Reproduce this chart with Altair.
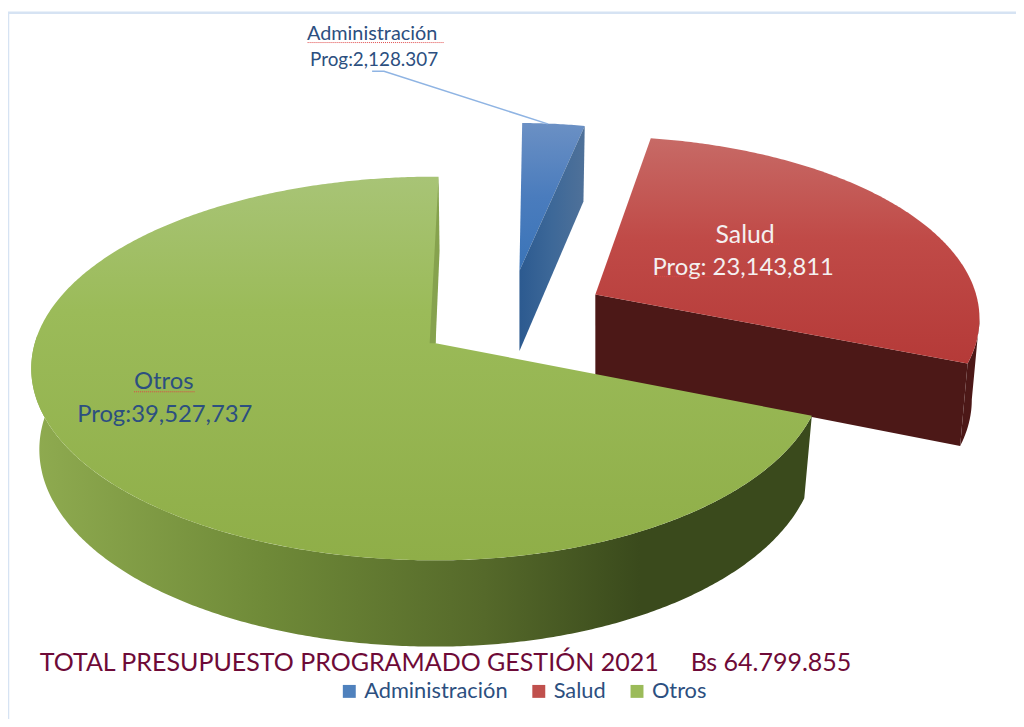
import numpy as np
import pandas as pd
import altair as alt

# ---- data ----
categories = ["Administración", "Salud", "Otros"]
programado = [2128307, 23143811, 39527737]
legend_colors = ["#4f81bd", "#c0504d", "#9bbb59"]
NB = "\u00a0"
title_text = "TOTAL PRESUPUESTO PROGRAMADO GESTIÓN 2021" + NB * 5 + "Bs 64.799.855"
FONT = "Lato"

# ---- canvas (scales are expressed in page pixels) ----
W, H = 1016, 711
X_SCALE = alt.Scale(domain=[8, 8 + W], range=[0, W], nice=False, zero=False)
Y_SCALE = alt.Scale(domain=[8, 8 + H], range=[0, H], nice=False, zero=False)
X = alt.X("x:Q", scale=X_SCALE, axis=None)
Y = alt.Y("y:Q", scale=Y_SCALE, axis=None)

# ---- 3-D projection of the exploded pie ----
K, RX, RY, DEPTH, SHRINK = 0.132, 404.0, 190.0, 81.0, 0.98
APEX = {"Administración": (523.5, 270.0, 0.887),
        "Salud": (600.0, 294.0, 0.95),
        "Otros": (439.0, 343.0, 1.0)}
RIGHT_SQUEEZE = {"Administración": 1.0, "Salud": 1.0, "Otros": 0.96}
START_TRIM = {"Administración": 0.0, "Salud": -2.5, "Otros": 0.0}


def warp(a):
    # the drawing compresses the right-hand side of the pie
    return a - 16.6 * (1 - np.cos(np.radians(a)))


def rim(name, a_deg, bottom=False):
    cx, cy, s = APEX[name]
    t = np.radians(a_deg + 0.5)
    xx, yy = np.sin(t), np.cos(t)
    w = 1 + K * yy
    squeeze = np.where(xx > 0, RIGHT_SQUEEZE[name], 1.0)
    px = cx + s * RX * squeeze * xx / w
    py = cy - s * RY * yy / w
    if bottom:
        px = cx + (px - cx) * SHRINK
        py = py + DEPTH / np.sqrt(w)
    return np.column_stack([np.atleast_1d(px), np.atleast_1d(py)])


def apex(name, bottom=False):
    cx, cy, _ = APEX[name]
    return np.array([[cx, cy + (DEPTH if bottom else 0)]])


def poly(points, fill):
    pts = np.vstack(points)
    df = pd.DataFrame({"x": pts[:, 0], "y": pts[:, 1], "i": np.arange(len(pts))})
    return alt.Chart(df).mark_line(fill=fill, stroke="transparent", strokeWidth=0, clip=False).encode(
        x=X, y=Y, order=alt.Order("i:Q"))


def grad(stops, horizontal=False):
    return {"gradient": "linear", "x1": 0, "y1": 0,
            "x2": 1 if horizontal else 0, "y2": 0 if horizontal else 1,
            "stops": [{"offset": o, "color": c} for o, c in stops]}


edges = np.cumsum([0] + programado) / sum(programado) * 360.0
bounds = {n: (warp(edges[i]) + START_TRIM[n], warp(edges[i + 1])) for i, n in enumerate(categories)}


def arc(name, a0, a1, bottom=False):
    return rim(name, np.linspace(a0, a1, int(abs(a1 - a0)) * 2 + 2), bottom)


layers = []

# Administración
a0, a1 = bounds["Administración"]
layers.append(poly([apex("Administración"), arc("Administración", a0, a1)],
                   grad([(0, "#6b90c4"), (0.5, "#4a7cbd"), (1, "#3a74b8")])))
layers.append(poly([apex("Administración"), rim("Administración", a1),
                    rim("Administración", a1, True), apex("Administración", True)],
                   grad([(0, "#2c5a90"), (0.5, "#3d6898"), (1, "#4f7199")], True)))

# Salud
a0, a1 = bounds["Salud"]
layers.append(poly([arc("Salud", a1 - 14, a1), arc("Salud", a1, a1 - 14, True)], "#4c1817"))
layers.append(poly([apex("Salud"), rim("Salud", a1), rim("Salud", a1, True), apex("Salud", True)], "#4c1817"))
layers.append(poly([apex("Salud"), arc("Salud", a0, a1)],
                   grad([(0, "#c76a66"), (0.45, "#c04a47"), (1, "#b53a38")])))

# Otros
a0, a1 = bounds["Otros"]
layers.append(poly([arc("Otros", a0, 272), arc("Otros", 272, a0, True)],
                   grad([(0, "#8fab50"), (0.3, "#6f8a38"), (0.58, "#55692a"),
                         (0.78, "#3a4a1c"), (1, "#3a4a1c")], True)))
layers.append(poly([apex("Otros"), arc("Otros", a0, a1)],
                   grad([(0, "#a8c476"), (0.35, "#9bbb59"), (1, "#8fae48")])))
top = rim("Otros", 360)
layers.append(poly([top, top + np.array([[1, 75]]), apex("Otros"), apex("Otros") + np.array([[-6, 0]])], "#86a24e"))

# leader line of the Administración label
leader = pd.DataFrame({"x": [375, 387, 552], "y": [69, 69, 122], "i": [0, 1, 2]})
layers.append(alt.Chart(leader).mark_line(color="#8fb4e3", strokeWidth=1.5).encode(x=X, y=Y, order="i:Q"))

# frame lines
frame = pd.DataFrame({"x": [8, 8], "x2": [8, 1024], "y": [10, 10], "y2": [727, 10]})
layers.append(alt.Chart(frame).mark_rule(color="#d6e3f3", strokeWidth=2.5).encode(
    x=X, x2="x2:Q", y=Y, y2="y2:Q"))


# labels
def text(rows, color, size, align="center"):
    df = pd.DataFrame(rows, columns=["x", "y", "t"])
    return alt.Chart(df).mark_text(font=FONT, fontSize=size, color=color, align=align, baseline="middle").encode(
        x=X, y=Y, text="t:N")


layers.append(text([(375, 31, "Administración")], "#2c4f80", 20))
layers.append(text([(377, 58, "Prog:2,128.307")], "#2c4f80", 19))
layers.append(text([(751, 234, "Salud")], "#f4f0f0", 25))
layers.append(text([(749, 267, "Prog: 23,143,811")], "#f4f0f0", 24))
layers.append(text([(165, 382, "Otros"), (166, 415, "Prog:39,527,737")], "#2c4f80", 24))

# proofing squiggles
sq = pd.DataFrame({"x": [310, 720, 659, 135], "x2": [447, 785, 716, 197], "y": [40, 243, 276, 392]})
layers.append(alt.Chart(sq).mark_rule(color="#e04848", strokeWidth=1, strokeDash=[1, 1]).encode(
    x=X, x2="x2:Q", y=Y))

# title line
layers.append(text([(40, 665, title_text)], "#6e0a37", 25.2, "left"))

# legend
leg = pd.DataFrame({"c": categories, "x": [500] * 3, "y": [694] * 3})
layers.append(alt.Chart(leg).mark_square(size=0).encode(
    x=X, y=Y,
    color=alt.Color("c:N", sort=categories,
                    scale=alt.Scale(domain=categories, range=legend_colors),
                    legend=alt.Legend(orient="none", legendX=333, legendY=675, direction="horizontal",
                                      title=None, symbolType="square", symbolSize=170, symbolOpacity=1,
                                      labelFont=FONT, labelFontSize=22, labelColor="#2c4f80",
                                      columnPadding=20, symbolStrokeWidth=0))))

chart = alt.layer(*layers).properties(
    width=W, height=H, padding=0, background="white",
    autosize=alt.AutoSizeParams(type="none")
).configure_view(stroke=None)

chart.save("out.html", embed_options={"renderer": "svg", "actions": False})
